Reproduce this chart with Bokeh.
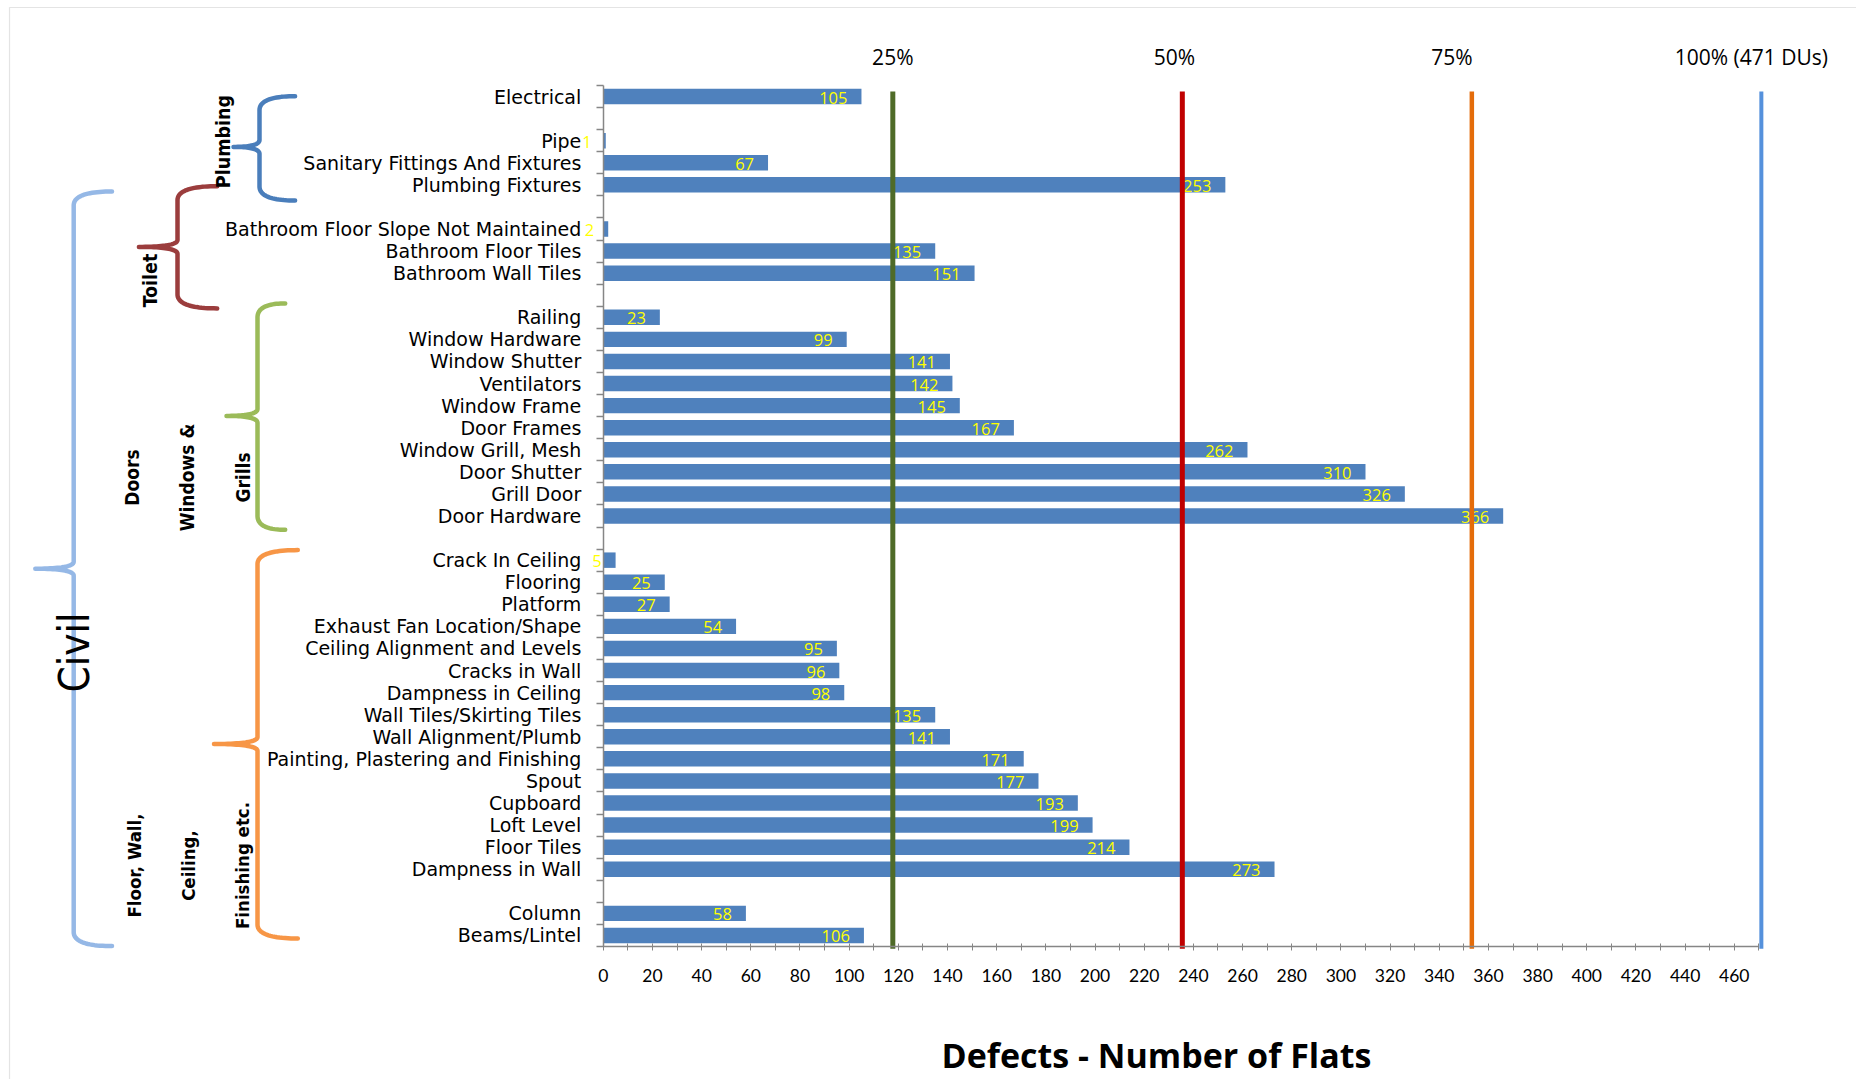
import numpy as np
from bokeh.plotting import figure
from bokeh.models import (ColumnDataSource, Range1d, FixedTicker, LinearAxis, BoxAnnotation)
from bokeh.core.properties import value
from bokeh.embed import file_html
from bokeh.resources import INLINE

# ---------------- data ----------------
electrical_cats = ["Electrical"]
electrical_vals = [105]

plumbing_cats = ["Pipe", "Sanitary Fittings And Fixtures", "Plumbing Fixtures"]
plumbing_vals = [1, 67, 253]

toilet_cats = ["Bathroom Floor Slope Not Maintained", "Bathroom Floor Tiles", "Bathroom Wall Tiles"]
toilet_vals = [2, 135, 151]

doors_cats = ["Railing", "Window Hardware", "Window Shutter", "Ventilators", "Window Frame",
              "Door Frames", "Window Grill, Mesh", "Door Shutter", "Grill Door", "Door Hardware"]
doors_vals = [23, 99, 141, 142, 145, 167, 262, 310, 326, 366]

finishing_cats = ["Crack In Ceiling", "Flooring", "Platform", "Exhaust Fan Location/Shape",
                  "Ceiling Alignment and Levels", "Cracks in Wall", "Dampness in Ceiling",
                  "Wall Tiles/Skirting Tiles", "Wall Alignment/Plumb",
                  "Painting, Plastering and Finishing", "Spout", "Cupboard", "Loft Level",
                  "Floor Tiles", "Dampness in Wall"]
finishing_vals = [5, 25, 27, 54, 95, 96, 98, 135, 141, 171, 177, 193, 199, 214, 273]

structure_cats = ["Column", "Beams/Lintel"]
structure_vals = [58, 106]

total_dus = 471
pct_fracs = [0.25, 0.50, 0.75, 1.00]
pct_labels = ["25%", "50%", "75%", "100% (471 DUs)"]
x_tick_values = list(range(0, 461, 20))

# ---------------- layout helpers (page pixels -> data) ----------------
W, H = 1856, 1079
X0PX, XS = 602.8, 2.4587          # x=0 position, px per unit
Y0PX, YS = 85.0, 22.077           # top boundary (row 0.5), px per row


def px_x(px):
    return (np.asarray(px, dtype=float) - X0PX) / XS


def px_y(py):
    return 0.5 + (np.asarray(py, dtype=float) - Y0PX) / YS


blocks = [(electrical_cats, electrical_vals), (plumbing_cats, plumbing_vals),
          (toilet_cats, toilet_vals), (doors_cats, doors_vals),
          (finishing_cats, finishing_vals), (structure_cats, structure_vals)]
rows, cats, vals = [], [], []
r = 1
for c, v in blocks:
    for ci, vi in zip(c, v):
        rows.append(r)
        cats.append(ci)
        vals.append(vi)
        r += 1
    r += 1
n_rows = r - 2  # 39

src = ColumnDataSource(dict(y=rows, cat=cats, val=vals, lab=[str(v) for v in vals]))

p = figure(width=W, height=H, min_border=0,
           x_range=Range1d(float(px_x(0)), float(px_x(W))),
           y_range=Range1d(float(px_y(H)), float(px_y(0))),
           x_axis_location=None, y_axis_location=None,
           toolbar_location=None, output_backend="svg")
p.outline_line_color = None
p.grid.visible = False
p.background_fill_color = "white"
p.border_fill_color = "white"

gray = "#868686"

# ---------------- x axis ----------------
xax = LinearAxis(fixed_location=n_rows + 0.5, bounds=(0, 470),
                 ticker=FixedTicker(ticks=x_tick_values, minor_ticks=list(range(10, 471, 20))))
xax.axis_line_color = gray
xax.axis_line_width = 1.5
xax.major_tick_line_color = gray
xax.minor_tick_line_color = gray
xax.major_tick_in = 3
xax.major_tick_out = 4
xax.minor_tick_in = 3
xax.minor_tick_out = 4
xax.major_label_standoff = 18
xax.major_label_text_font = "Lato"
xax.major_label_text_font_size = "17.5px"
xax.major_label_text_color = "black"
p.add_layout(xax, "below")

# ---------------- y axis (categories, ticks between rows) ----------------
bnd = [k + 0.5 for k in range(0, n_rows + 1)]
yax = LinearAxis(fixed_location=0, bounds=(0.5, n_rows + 0.5),
                 ticker=FixedTicker(ticks=rows, minor_ticks=bnd))
yax.major_label_overrides = {int(k): c for k, c in zip(rows, cats)}
yax.axis_line_color = gray
yax.axis_line_width = 1.5
yax.major_tick_in = 0
yax.major_tick_out = 0
yax.minor_tick_in = 0
yax.minor_tick_out = 7
yax.minor_tick_line_color = gray
yax.minor_tick_line_width = 1.5
yax.major_label_standoff = 15
yax.major_label_text_font = "DejaVu Sans"
yax.major_label_text_font_size = "19px"
yax.major_label_text_color = "black"
p.add_layout(yax, "left")

# ---------------- bars ----------------
p.hbar(y="y", right="val", left=0, height=0.7, source=src,
       fill_color="#4F81BD", line_color=None)

# value labels
p.text(x="val", y="y", text="lab", source=src, x_offset=-14, y_offset=1,
       text_align="right", text_baseline="middle", text_font=value("Open Sans"),
       text_font_size="16.5px", text_color="#FFFF00")

# ---------------- percentage lines ----------------
pct_x = [total_dus * f for f in pct_fracs]
pct_colors = ["#4F6B28", "#C00000", "#E46C0A", "#5591DC"]
pct_widths = [5, 5, 4.5, 4]
for xv, col, lw in zip(pct_x, pct_colors, pct_widths):
    p.segment(x0=[xv], y0=[float(px_y(91))], x1=[xv], y1=[n_rows + 0.6],
              line_color=col, line_width=lw)
p.text(x=pct_x, y=[float(px_y(56))] * 4, text=pct_labels, x_offset=[0, -8, -20, -10],
       text_align="center", text_baseline="middle", text_font=value("Open Sans"),
       text_font_size="21px", text_color="black")

# ---------------- braces ----------------


def quad(p0, c, p1, n=24):
    t = np.linspace(0, 1, n)[:, None]
    p0, c, p1 = np.array(p0), np.array(c), np.array(p1)
    return (1 - t) ** 2 * p0 + 2 * (1 - t) * t * c + t ** 2 * p1


def brace(xr, xs, xt, yt, ym, yb, rr=14, rt=7):
    pts = [quad((xr, yt), (xs, yt), (xs, yt + rr)),
           np.array([[xs, ym - rt]]),
           quad((xs, ym - rt), (xs, ym), (xt, ym)),
           quad((xt, ym), (xs, ym), (xs, ym + rt)),
           np.array([[xs, yb - rr]]),
           quad((xs, yb - rr), (xs, yb), (xr, yb))]
    a = np.vstack(pts)
    return px_x(a[:, 0]), px_y(a[:, 1])


braces = [
    ((111.5, 73.2, 34.8, 191, 568.2, 945.6), "#95B8E6"),   # Civil
    ((294.6, 259, 233, 95.7, 146.4, 200), "#4A7EBB"),      # Plumbing
    ((216.7, 177, 138.4, 185.7, 246.4, 307.9), "#9B3D3D"), # Toilet
    ((284.7, 257, 226, 302.9, 415.4, 529.3), "#9BBB59"),   # Doors
    ((297.3, 257, 213.5, 549.6, 743.5, 938), "#F79646"),   # Floor
]
for geo, col in braces:
    bx, by = brace(*geo)
    p.line(bx, by, line_color=col, line_width=4.5, line_join="round", line_cap="round")

# group labels (rotated)
grp = [("Plumbing", 223, 141, 19.5, "bold", 1.2),
       ("Toilet", 150, 280, 19.5, "bold", 1.2),
       ("Doors\nWindows &\nGrills", 187, 477, 19, "bold", 2.52),
       ("Floor, Wall,\nCeiling,\nFinishing etc.", 188, 865, 18.5, "bold", 2.59),
       ("Civil", 74, 652, 42, "normal", 1.2)]
for txt, gx, gy, fs, fw, lh in grp:
    p.text(x=[float(px_x(gx))], y=[float(px_y(gy))], text=[txt], angle=np.pi / 2,
           text_align="center", text_baseline="middle",
           text_font=value("DejaVu Sans Condensed"), text_font_size=f"{fs}px",
           text_font_style=fw, text_line_height=lh, text_color="black")

# x axis title
p.text(x=[float(px_x(1156))], y=[float(px_y(1054))], text=["Defects - Number of Flats"],
       text_align="center", text_baseline="middle", text_font=value("Open Sans"),
       text_font_size="34px", text_font_style="bold", text_color="black")

# outer border (left/top)
p.add_layout(BoxAnnotation(left=float(px_x(9)), right=float(px_x(W + 50)),
                           top=float(px_y(7)), bottom=float(px_y(H + 50)),
                           fill_alpha=0, line_color="#A6A6A6", line_width=1.2))

open("out.html", "w").write(file_html(p, INLINE))
